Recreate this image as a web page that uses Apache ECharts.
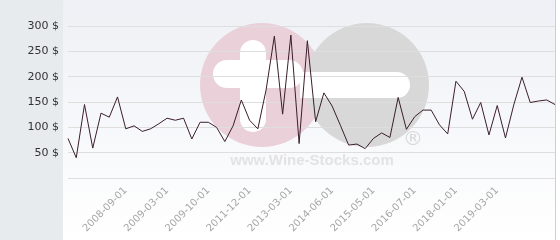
<!DOCTYPE html>
<html><head><meta charset="utf-8">
<script src="https://cdn.jsdelivr.net/npm/echarts@6/dist/echarts.min.js"></script>
<style>html,body{margin:0;padding:0;background:#fff}#c{width:560px;height:240px}</style>
</head><body><div id="c"></div>
<script>
const categories = [
 '2008-02-01','2008-03-01','2008-04-01','2008-05-01','2008-06-01','2008-07-01','2008-08-01','2008-09-01',
 '2008-10-01','2008-11-01','2008-12-01','2009-01-01','2009-03-01',
 '2009-04-01','2009-05-01','2009-06-01','2009-08-01','2009-10-01',
 '2010-03-01','2010-08-01','2011-01-01','2011-06-01','2011-12-01',
 '2012-02-01','2012-05-01','2012-08-01','2012-11-01','2013-03-01',
 '2013-06-01','2013-09-01','2013-12-01','2014-03-01','2014-06-01',
 '2014-08-01','2014-10-01','2014-12-01','2015-03-01','2015-05-01',
 '2015-08-01','2015-11-01','2016-02-01','2016-04-01','2016-07-01',
 '2016-10-01','2017-01-01','2017-05-01','2017-09-01','2018-01-01',
 '2018-03-01','2018-06-01','2018-09-01','2018-12-01','2019-03-01',
 '2019-05-01','2019-07-01','2019-09-01','2019-11-01','2020-01-01','2020-03-01','2020-05-01'
];
const prices = [
 78,40,145,59,128,120,160,97,103,92,
 97,107,118,114,118,77,110,110,100,72,
 103,154,114,97,174,280,126,282,68,271,
 111,168,142,104,65,67,58,78,89,80,
 159,96,121,134,134,105,87,191,171,116,
 149,85,143,79,144,199,149,152,154,145
];
const yTicks = { min: 0, max: 300, interval: 50 };
const shownLabelIndices = [7,12,17,22,27,32,37,42,47,52];

const chart = echarts.init(document.getElementById('c'), null, {renderer:'canvas'});
chart.setOption({
  animation: false,
  graphic: [
    {type:'rect', z:-100, shape:{x:0,y:0,width:63,height:240}, style:{fill:'#e7ebee'}},
    {type:'rect', z:-100, shape:{x:63,y:0,width:493,height:240},
      style:{fill:new echarts.graphic.LinearGradient(0,0,0,1,[{offset:0,color:'#eef0f5'},{offset:1,color:'#ffffff'}])}},
    {type:'line', z:-90, shape:{x1:555.5,y1:0,x2:555.5,y2:240}, style:{stroke:'#cfcfcf',lineWidth:1}},
    {type:'circle', z:-80, shape:{cx:262,cy:85,r:62}, style:{fill:'#ead0d8'}},
    {type:'circle', z:-79, shape:{cx:367,cy:85,r:62}, style:{fill:'#d8d8d8'}},
    {type:'rect', z:-78, shape:{x:213,y:60,width:90,height:28,r:14}, style:{fill:'#ffffff'}},
    {type:'rect', z:-78, shape:{x:240,y:40,width:26,height:92,r:13}, style:{fill:'#ffffff'}},
    {type:'rect', z:-78, shape:{x:300,y:72,width:110,height:26,r:[0,13,13,0]}, style:{fill:'#ffffff'}},
    {type:'text', z:-77, x:312, y:161, style:{text:'www.Wine-Stocks.com', fill:'#e3e3e3', font:'bold 15px "Liberation Sans"', align:'center', verticalAlign:'middle'}},
    {type:'text', z:-77, x:413, y:140, style:{text:'®', fill:'#d9d9d9', font:'20px "DejaVu Sans"', align:'center', verticalAlign:'middle'}}
  ],
  grid: {left:68, right:5, top:26, bottom:62, containLabel:false},
  xAxis: {
    type:'category', data:categories, boundaryGap:false,
    axisLine:{show:false}, axisTick:{show:false},
    axisLabel:{rotate:45, color:'#a6a6a6', fontSize:10, fontFamily:'DejaVu Sans', margin:11,
      interval:(i)=>shownLabelIndices.includes(i)},
    splitLine:{show:false}
  },
  yAxis: {
    type:'value', min:yTicks.min, max:yTicks.max, interval:yTicks.interval,
    axisLine:{show:false}, axisTick:{show:false},
    axisLabel:{formatter:'{value} $', color:'#333333', fontSize:11, fontFamily:'DejaVu Sans', margin:9, showMinLabel:false},
    splitLine:{lineStyle:{color:'#dedede', width:1}}
  },
  series: [{
    type:'line', data:prices, showSymbol:false, symbol:'none',
    lineStyle:{color:'#3b1e2c', width:1}
  }]
});
</script></body></html>
